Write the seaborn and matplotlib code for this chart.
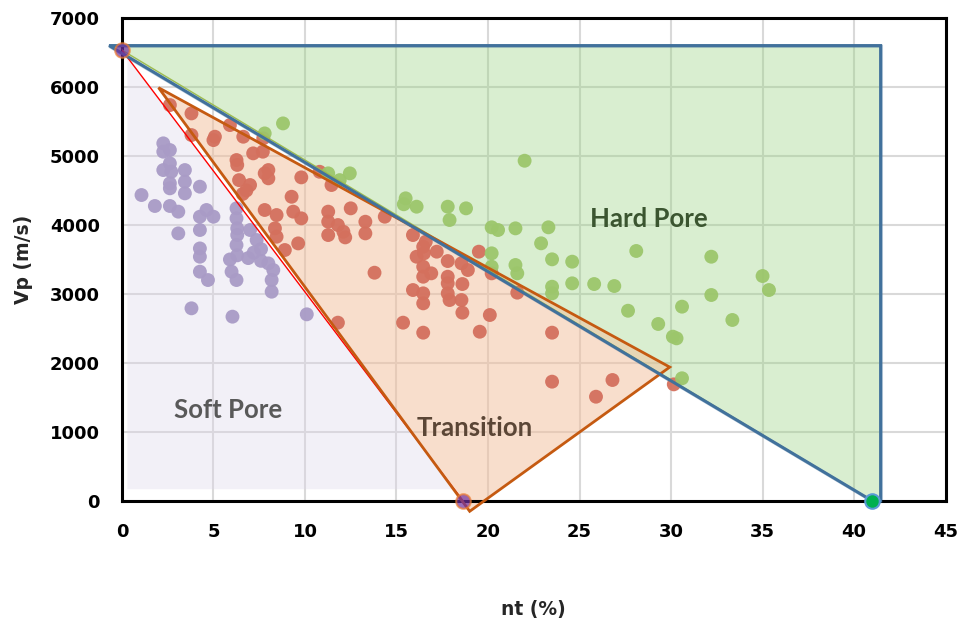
import matplotlib
matplotlib.use("Agg")
import matplotlib.pyplot as plt
import numpy as np
import pandas as pd
import seaborn as sns
from matplotlib.patches import Polygon

# ---- measured samples: total porosity nt (%) and P-wave velocity Vp (m/s) ----
soft_nt = [2.26, 2.62, 2.26, 2.62, 2.26, 2.7, 3.44, 3.44, 3.44, 2.62, 2.62, 4.26,
           1.07, 1.8, 2.62, 3.08, 4.62, 4.26, 5.0, 4.26, 3.08, 4.26, 4.26, 4.26,
           4.7, 3.8, 6.04, 6.26, 6.26, 6.3, 6.3, 6.26, 7.0, 5.9, 6.3, 6.9, 7.6,
           7.36, 7.6, 7.2, 5.99, 6.26, 8.0, 8.27, 8.18, 8.18, 10.1]
soft_vp = [5183, 5086, 5062, 4893, 4796, 4771, 4796, 4627, 4458, 4603, 4531, 4555,
           4434, 4275, 4275, 4193, 4217, 4120, 4120, 3927, 3878, 3660, 3540, 3323,
           3202, 2792, 2671, 4241, 4096, 3951, 3854, 3709, 3927, 3500, 3560, 3520, 3480,
           3782, 3650, 3600, 3323, 3202, 3443, 3347, 3202, 3033, 2705]

trans_nt = [2.62, 3.8, 5.9, 3.8, 5.08, 5.0, 6.63, 7.72, 7.17, 7.7, 6.26, 6.3, 8.0,
            7.8, 8.0, 9.8, 10.8, 11.45, 7.0, 6.4, 6.8, 6.6, 9.27, 7.8, 8.45, 9.36,
            9.8, 8.36, 8.45, 8.9, 9.63, 11.27, 11.27, 11.27, 11.8, 12.1, 12.2, 12.5,
            13.3, 13.3, 14.36, 13.8, 11.8, 15.9, 16.46, 16.1, 16.46, 16.46, 15.9,
            16.46, 16.46, 15.36, 16.46, 19.5, 23.5, 23.5, 26.8, 25.9, 30.15, 21.6,
            20.1, 19.55, 18.6, 17.8, 17.9, 18.55, 18.6, 17.8, 17.8, 16.9, 18.55,
            18.9, 17.8, 16.5, 17.2, 16.6, 20.2]
trans_vp = [5738, 5617, 5448, 5303, 5279, 5230, 5279, 5255, 5038, 5062, 4941, 4870, 4796,
            4748, 4676, 4690, 4771, 4579, 4579, 4650, 4500, 4450, 4409, 4217, 4144, 4193,
            4096, 3951, 3830, 3637, 3733, 4193, 4048, 3854, 3999, 3902, 3820, 4241,
            4047, 3878, 4120, 3308, 2584, 3854, 3685, 3540, 3395, 3250, 3057,
            3009, 2864, 2584, 2439, 3613, 2439, 1729, 1753, 1511, 1690, 3019,
            2695, 2453, 2729, 3009, 2912, 2912, 3144, 3250, 3154, 3299, 3444,
            3347, 3477, 3589, 3613, 3757, 3299]

hard_nt = [7.8, 8.8, 11.27, 11.9, 12.45, 15.5, 16.1, 15.4, 22.0, 17.8, 17.9, 18.8,
           20.2, 20.55, 21.5, 23.3, 22.9, 20.2, 21.5, 21.6, 20.2, 23.5, 24.6, 28.1,
           32.2, 23.5, 23.5, 24.6, 25.8, 26.9, 32.2, 33.35, 27.65, 29.3, 30.6, 30.1,
           30.3, 30.6, 35.0, 35.35]
hard_vp = [5327, 5472, 4748, 4650, 4748, 4386, 4265, 4300, 4931, 4265, 4072, 4241,
           3966, 3927, 3951, 3966, 3734, 3589, 3420, 3299, 3395, 3502, 3468, 3623,
           3540, 3105, 3009, 3154, 3144, 3115, 2985, 2623, 2757, 2565, 2816, 2381,
           2357, 1778, 3260, 3057]

# ---- zone boundaries ----
hard_zone_nt = [-0.7, 41.45, 41.45, 41.0]
hard_zone_vp = [6600, 6600, 0, 0]
trans_zone_nt = [2.0, 29.93, 19.0]
trans_zone_vp = [5990, 1940, -150]
soft_zone_nt = [0.3, 18.16, 0.3]
soft_zone_vp = [6435, 170, 170]
soft_line_nt = [0.0, 18.64]      # soft-pore limit
soft_line_vp = [6535, 0]
hard_line_nt = [0.0, 41.0]       # hard-pore limit
hard_line_vp = [6535, 0]
end_nt = [0.0, 18.64]
end_vp = [6535, 0]

sns.set_theme(style="white")
plt.rcParams["font.family"] = ["DejaVu Sans"]

fig = plt.figure(figsize=(9.6, 6.2), dpi=100)
ax = fig.add_axes([0.127, 0.192, 0.858, 0.779])

# zone fills
ax.add_patch(Polygon(np.column_stack([soft_zone_nt, soft_zone_vp]), closed=True,
                     facecolor="#dcd6ea", alpha=0.35, edgecolor="none", zorder=1))
ax.add_patch(Polygon(np.column_stack([hard_zone_nt, hard_zone_vp]), closed=True,
                     facecolor="#92d179", alpha=0.35, edgecolor="#41719c",
                     linewidth=2.2, zorder=1, clip_on=False))
ax.add_patch(Polygon(np.column_stack([trans_zone_nt, trans_zone_vp]), closed=True,
                     facecolor="#f3bf9b", alpha=0.5, edgecolor="none",
                     zorder=1.5, clip_on=False))

df = pd.concat([
    pd.DataFrame({"nt": soft_nt, "vp": soft_vp, "zone": "Soft Pore"}),
    pd.DataFrame({"nt": trans_nt, "vp": trans_vp, "zone": "Transition"}),
    pd.DataFrame({"nt": hard_nt, "vp": hard_vp, "zone": "Hard Pore"}),
], ignore_index=True)
palette = {"Soft Pore": "#a99bc6", "Transition": "#d4705d", "Hard Pore": "#9cc66b"}
sns.scatterplot(data=df, x="nt", y="vp", hue="zone", palette=palette, s=100,
                linewidth=0, alpha=0.95, legend=False, ax=ax, zorder=3)

# boundary lines
sns.lineplot(x=hard_line_nt, y=hard_line_vp, color="#9dbb4f", linewidth=1.0,
             ax=ax, zorder=4, sort=False)
sns.lineplot(x=soft_line_nt, y=soft_line_vp, color="#ff0000", linewidth=1.0,
             ax=ax, zorder=4, sort=False)
ax.add_patch(Polygon(np.column_stack([trans_zone_nt, trans_zone_vp]), closed=True,
                     facecolor="none", edgecolor="#c55a11", linewidth=2.0,
                     zorder=4, clip_on=False))
ax.add_patch(Polygon(np.column_stack([hard_zone_nt, hard_zone_vp]), closed=True,
                     facecolor="none", edgecolor="#41719c", linewidth=2.2,
                     zorder=4.5, clip_on=False))

# end points of the limits
ax.scatter(end_nt, end_vp, s=110, color="#7030a0", alpha=0.7, edgecolor="#ed7d31",
           linewidth=1.5, zorder=6, clip_on=False)
ax.scatter([hard_line_nt[1]], [hard_line_vp[1]], s=110, color="#00b050",
           edgecolor="#5b9bd5", linewidth=1.5, zorder=6, clip_on=False)

# zone names
ax.text(5.8, 1320, "Soft Pore", fontsize=18.5, fontweight="bold", color="#595959",
        family="Lato", ha="center", va="center", zorder=7)
ax.text(19.3, 1058, "Transition", fontsize=18.5, fontweight="bold", color="#5b4636",
        family="Lato", ha="center", va="center", zorder=7)
ax.text(28.8, 4086, "Hard Pore", fontsize=18.5, fontweight="bold", color="#3b5530",
        family="Lato", ha="center", va="center", zorder=7)

ax.set_xlim(0, 45)
ax.set_ylim(0, 7000)
ax.set_xticks(np.arange(0, 46, 5))
ax.set_yticks(np.arange(0, 7001, 1000))
ax.grid(True, color="#d9d9d9", linewidth=1.5, zorder=0)
ax.set_axisbelow(True)
for sp in ax.spines.values():
    sp.set_color("black")
    sp.set_linewidth(2.2)
    sp.set_visible(True)
ax.tick_params(axis="both", length=0, labelsize=13, colors="black")
ax.tick_params(axis="x", pad=16)
ax.tick_params(axis="y", pad=16)
for lab in ax.get_xticklabels() + ax.get_yticklabels():
    lab.set_fontweight("bold")
ax.set_xlabel("nt (%)", fontsize=13.5, fontweight="bold", labelpad=42)
ax.set_ylabel("Vp (m/s)", fontsize=13.5, fontweight="bold", labelpad=12)

fig.savefig("out.png", dpi=100)
